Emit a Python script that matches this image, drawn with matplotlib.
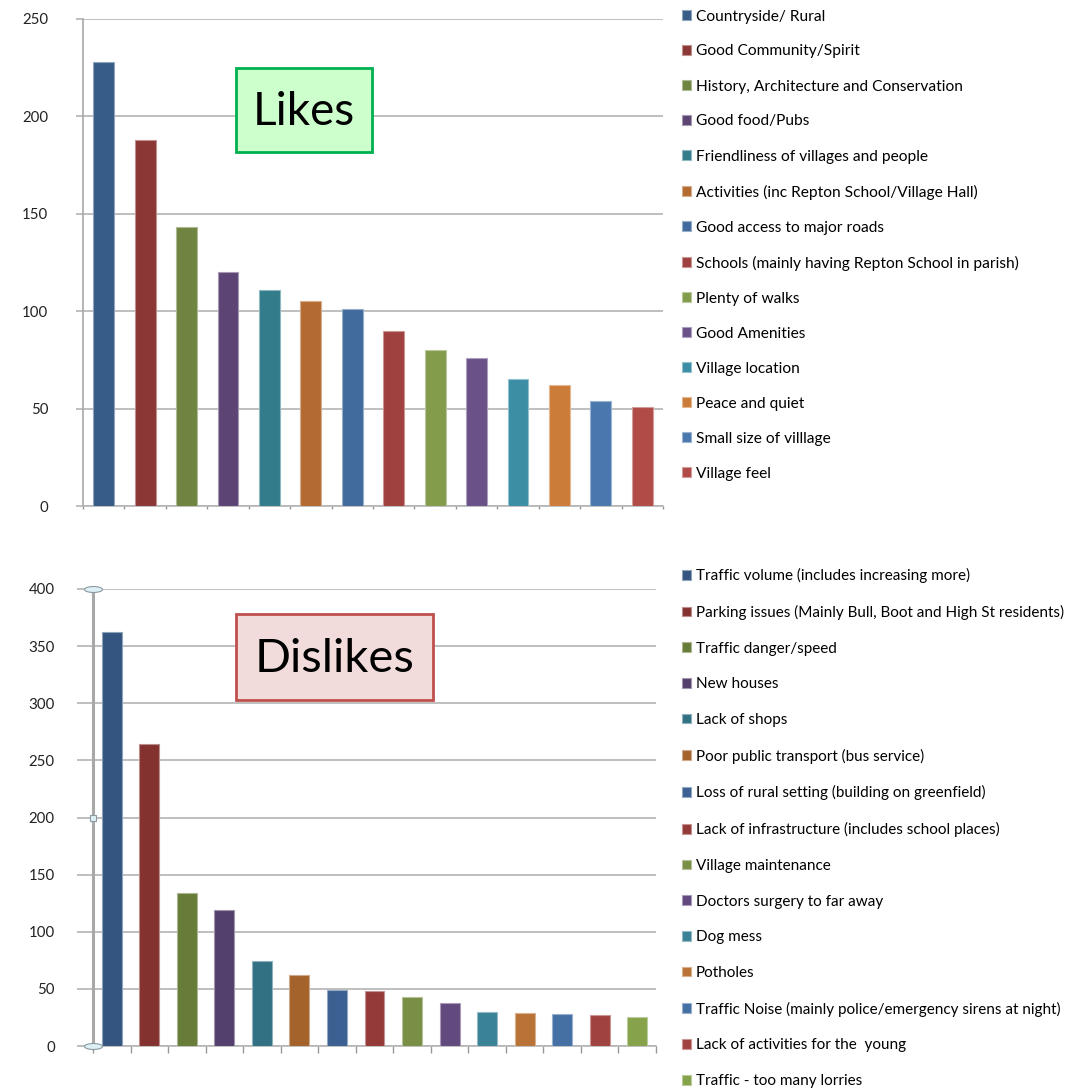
import matplotlib
matplotlib.use("Agg")
import matplotlib.pyplot as plt
import numpy as np
from matplotlib.patches import Rectangle
from matplotlib.path import Path
from matplotlib.transforms import Affine2D
from matplotlib.colors import to_rgb

plt.rcParams['font.family'] = ['Lato', 'DejaVu Sans']

# ---- data ----
likes_labels = [
    "Countryside/ Rural",
    "Good Community/Spirit",
    "History, Architecture and Conservation",
    "Good food/Pubs",
    "Friendliness of villages and people",
    "Activities (inc Repton School/Village Hall)",
    "Good access to major roads",
    "Schools (mainly having Repton School in parish)",
    "Plenty of walks",
    "Good Amenities",
    "Village location",
    "Peace and quiet",
    "Small size of villlage",
    "Village feel",
]
likes_values = [228, 188, 143, 120, 111, 105, 101, 90, 80, 76, 65, 62, 54, 51]

dislikes_labels = [
    "Traffic volume (includes increasing more)",
    "Parking issues (Mainly Bull, Boot and High St residents)",
    "Traffic danger/speed",
    "New houses",
    "Lack of shops",
    "Poor public transport (bus service)",
    "Loss of rural setting (building on greenfield)",
    "Lack of infrastructure (includes school places)",
    "Village maintenance",
    "Doctors surgery to far away",
    "Dog mess",
    "Potholes",
    "Traffic Noise (mainly police/emergency sirens at night)",
    "Lack of activities for the  young",
    "Traffic - too many lorries",
]
dislikes_values = [362, 264, 134, 119, 74, 62, 49, 48, 43, 38, 30, 29, 28, 27, 25]

likes_colors = ["#365c87", "#8b3735", "#6f8440", "#5c4574", "#327c8c", "#b36b31", "#416b9c",
                "#9e413f", "#829c4b", "#6a5289", "#3c8ea5", "#cc7c39", "#4a77ae", "#b04b48"]
dislikes_colors = ["#33557f", "#83322f", "#687c39", "#54406c", "#317183", "#a5632c", "#3b6091",
                   "#943b39", "#788f45", "#62497e", "#3a8296", "#b97336", "#4470a4", "#a04240",
                   "#86a24b"]

W, H = 1078, 1091
fig = plt.figure(figsize=(W / 100, H / 100), dpi=100)


def fx(px):
    return px / W


def fy(py):
    return 1 - py / H


def lighter(c, f=0.45):
    r, g, b = to_rgb(c)
    return (r + (1 - r) * f, g + (1 - g) * f, b + (1 - b) * f)


grid_c = "#b4b4b4"


def draw_panel(rect, labels, values, colors, ymax, width, tick_len, tick_pad, xtick_len):
    ax = fig.add_axes(rect)
    x = np.arange(len(values))
    bars = ax.bar(x, values, width=width, color=colors,
                  edgecolor=[lighter(c) for c in colors], linewidth=0.8, zorder=3)
    ax.set_xlim(-0.5, len(values) - 0.5)
    ax.set_ylim(0, ymax)
    ax.set_yticks(np.arange(0, ymax + 1, 50))
    ax.yaxis.grid(True, color=grid_c, linewidth=1.2, zorder=0)
    ax.set_axisbelow(True)
    ax.set_xticks(np.arange(len(values) + 1) - 0.5)
    ax.set_xticklabels([])
    ax.tick_params(axis='y', length=tick_len, color=grid_c, width=1.2, pad=tick_pad,
                   labelsize=10.8, labelcolor="#222222")
    ax.tick_params(axis='x', length=xtick_len, color="#999999", width=1.0, direction='out')
    for s in ['top', 'right']:
        ax.spines[s].set_visible(False)
    ax.spines['left'].set_color("#a8a8a8")
    ax.spines['bottom'].set_color(grid_c)
    ax.spines['bottom'].set_linewidth(1.2)
    return ax, bars


# ---- Likes ----
ax1, bars1 = draw_panel([fx(83), fy(506), fx(663) - fx(83), fy(19) - fy(506)],
                        likes_labels, likes_values, likes_colors, 250, 0.5, 5, 20, 2)
ax1.spines['left'].set_linewidth(1.2)
fig.legend(bars1, likes_labels, loc='upper left', bbox_to_anchor=(fx(682), fy(9.5)),
           frameon=False, fontsize=11.2, handlelength=0.6, handleheight=0.6,
           handletextpad=0.3, labelspacing=1.35, borderpad=0, borderaxespad=0)

fig.patches.append(Rectangle((fx(236), fy(152)), fx(372) - fx(236), fy(68) - fy(152),
                             transform=fig.transFigure, facecolor="#ccffcc",
                             edgecolor="#00b050", linewidth=2, zorder=5))
fig.text(fx(304), fy(112), "Likes", ha='center', va='center', fontsize=33, zorder=6)

# ---- Dislikes ----
ax2, bars2 = draw_panel([fx(93), fy(1046), fx(656) - fx(93), fy(589) - fy(1046)],
                        dislikes_labels, dislikes_values, dislikes_colors, 400, 0.53, 11.5, 16, 5)
ax2.spines['left'].set_linewidth(2.2)
ell = Path.unit_circle().transformed(Affine2D().scale(1, 0.33))
ax2.plot([-0.5, -0.5], [0, 400], linestyle='none', marker=ell, markersize=13,
         markerfacecolor="#dcf0f6", markeredgecolor="#8a9aa0", markeredgewidth=0.8,
         clip_on=False, zorder=6)
ax2.plot([-0.5], [200], linestyle='none', marker='s', markersize=5,
         markerfacecolor="#dcf0f6", markeredgecolor="#8a9aa0", markeredgewidth=0.8,
         clip_on=False, zorder=6)
fig.legend(bars2, dislikes_labels, loc='upper left', bbox_to_anchor=(fx(682), fy(568)),
           frameon=False, fontsize=11, handlelength=0.6, handleheight=0.6,
           handletextpad=0.3, labelspacing=1.42, borderpad=0, borderaxespad=0)

fig.patches.append(Rectangle((fx(236), fy(700)), fx(433) - fx(236), fy(614) - fy(700),
                             transform=fig.transFigure, facecolor="#f2dcdb",
                             edgecolor="#c0504d", linewidth=2, zorder=5))
fig.text(fx(335), fy(659), "Dislikes", ha='center', va='center', fontsize=34, zorder=6)

fig.savefig("out.png", dpi=100)
